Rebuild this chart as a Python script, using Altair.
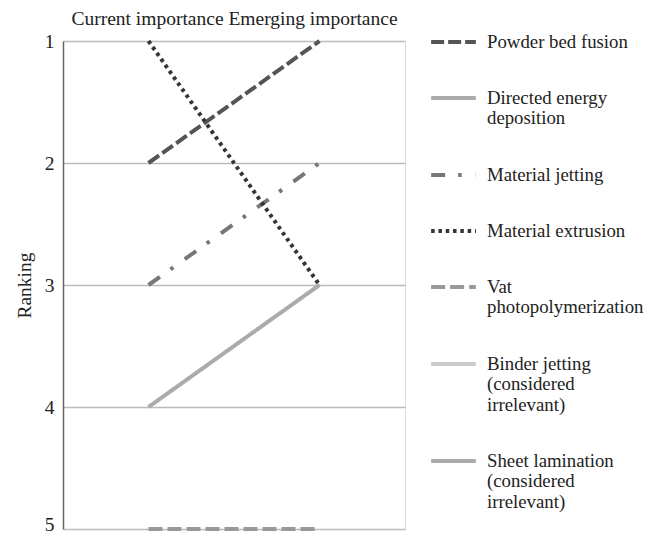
import altair as alt
import pandas as pd

methods = [
    "Powder bed fusion",
    "Directed energy deposition",
    "Material jetting",
    "Material extrusion",
    "Vat photopolymerization",
    "Binder jetting (considered irrelevant)",
    "Sheet lamination (considered irrelevant)",
]
legend_lines = [
    ["Powder bed fusion"],
    ["Directed energy", "deposition"],
    ["Material jetting"],
    ["Material extrusion"],
    ["Vat", "photopolymerization"],
    ["Binder jetting", "(considered", "irrelevant)"],
    ["Sheet lamination", "(considered", "irrelevant)"],
]
# None = considered irrelevant (no line drawn)
current_rank = [2, 4, 3, 1, 5, None, None]
emerging_rank = [1, 3, 2, 3, 5, None, None]
stage_pos = [0.25, 0.75]
header = "Current importance Emerging importance"

colors = ["#555555", "#ababab", "#777777", "#353535", "#999999", "#cccccc", "#aaaaaa"]
dashes = [[13, 4], [1, 0], [14, 13, 3.5, 14], [3.5, 3.8], [14, 5], [1, 0], [1, 0]]

rows = []
for i, m in enumerate(methods):
    if current_rank[i] is None:
        continue
    rows.append({"method": m, "stage": stage_pos[0], "rank": current_rank[i]})
    rows.append({"method": m, "stage": stage_pos[1], "rank": emerging_rank[i]})
df = pd.DataFrame(rows)

label_expr = " : ".join(
    f"datum.label == '{m}' ? {lines!r}" for m, lines in zip(methods, legend_lines)
) + " : datum.label"

font = "Liberation Serif"
fs = 19.5
lfs = 18.8

legend = alt.Legend(
    title=None, labelExpr=label_expr, symbolType="M-1,0.42L1,0.42",
    symbolSize=2000, symbolStrokeWidth=4, labelFont=font, labelFontSize=lfs,
    labelColor="#222222", rowPadding=12, labelOffset=9, labelLimit=300,
    labelBaseline="top", orient="none", legendX=366, legendY=-33, padding=0,
)

chart = alt.Chart(df).mark_line(strokeWidth=4, strokeCap="butt").encode(
    x=alt.X(
        "stage:Q",
        scale=alt.Scale(domain=[0, 1]),
        axis=alt.Axis(
            orient="top", values=[0.5], labelExpr=f"'{header}'", grid=False,
            ticks=False, tickSize=0, domain=False, title=None, labelFont=font,
            labelFontSize=fs, labelColor="#222222", labelPadding=13,
            labelLimit=600, labelFlush=False,
        ),
    ),
    y=alt.Y(
        "rank:Q",
        scale=alt.Scale(domain=[1, 5], reverse=True, nice=False, zero=False),
        axis=alt.Axis(
            values=[1, 2, 3, 4, 5], title="Ranking", grid=True, gridColor="#bbbbbb",
            gridWidth=1.5, ticks=False, tickSize=0, domainColor="#666666", domainWidth=1.5,
            labelFont=font, labelFontSize=fs, labelColor="#222222", labelPadding=9,
            labelOffset={"condition": {"test": "datum.value == 5", "value": -5}, "value": 0},
            titleFont=font, titleFontSize=fs, titleFontWeight="normal",
            titleColor="#222222", titlePadding=10,
        ),
    ),
    color=alt.Color("method:N", scale=alt.Scale(domain=methods, range=colors), legend=legend),
    strokeDash=alt.StrokeDash("method:N", scale=alt.Scale(domain=methods, range=dashes), legend=legend),
).properties(
    width=342, height=488,
    autosize=alt.AutoSizeParams(type="none"),
    padding={"left": 55, "top": 33, "right": 241, "bottom": 3},
).configure_view(stroke=None).configure(background="white")

chart.save("out.html", embed_options={"renderer": "svg", "actions": False})
